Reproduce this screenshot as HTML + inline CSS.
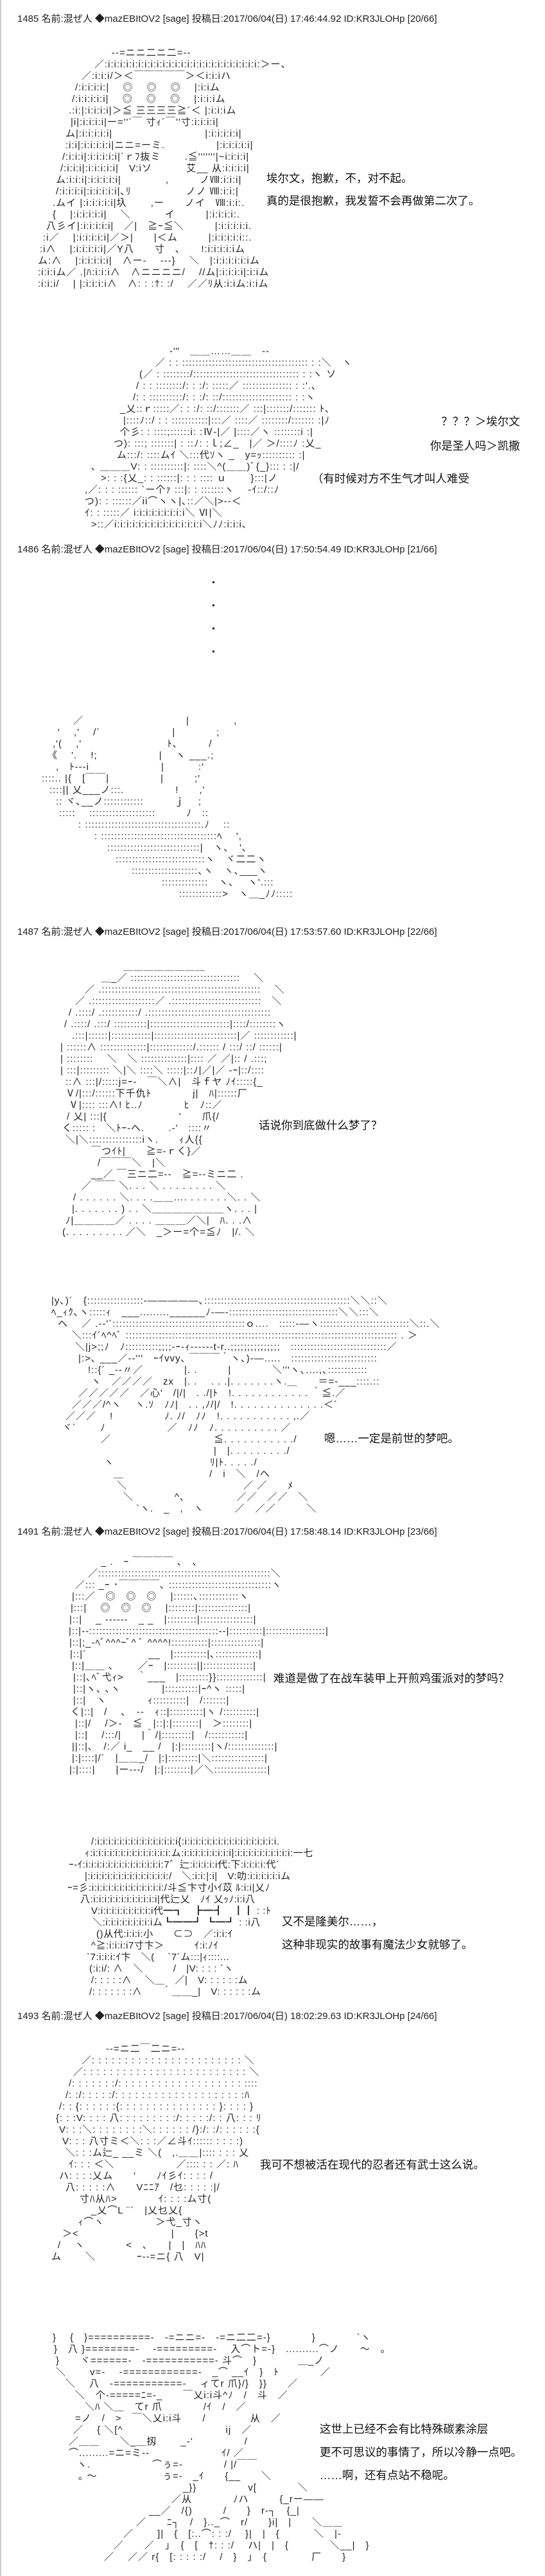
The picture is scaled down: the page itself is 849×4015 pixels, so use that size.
<!DOCTYPE html>
<html><head><meta charset="utf-8">
<style>
html,body{margin:0;padding:0;background:#fff;}
#w{position:relative;width:849px;height:4015px;overflow:hidden;border-left:2px solid #ccc;box-sizing:border-box;}
.h{position:absolute;left:25px;font:15px "Liberation Sans","Noto Sans CJK JP",sans-serif;color:#222;white-space:pre;line-height:18px;}
.t{position:absolute;font:17.5px "Liberation Sans","Noto Sans CJK SC",sans-serif;color:#111;white-space:pre;line-height:20px;}
.a{position:absolute;left:0;font:15px "Liberation Sans","Noto Sans CJK JP",sans-serif;color:#222;line-height:18px;letter-spacing:1px;}
.a div{height:18px;white-space:pre;overflow:visible;}
.d{position:absolute;width:3px;height:3px;background:#222;}
</style></head><body><div id="w">

<div class="h" style="top:21px">1485 名前:混ぜ人 ◆mazEBItOV2 [sage] 投稿日:2017/06/04(日) 17:46:44.92 ID:KR3JLOHp [20/66]</div>

<div class="a" style="top:74px">
<div style="padding-left:172px">-‐=ニニ二ニ二=‐-</div>
<div style="padding-left:145px">／:i:i:i:i:i:i:i:i:i:i:i:i:i:i:i:i:i:i:i:i:i:i:i:i:i:＞ー、</div>
<div style="padding-left:125px">／:i:i:i/＞＜￣￣￣￣￣＞＜i:i:iハ</div>
<div style="padding-left:115px">/:i:i:i:i:|　 ◎　 ◎　 ◎　 |:i:iム</div>
<div style="padding-left:110px">/:i:i:i:i:i|　 ◎　 ◎　 ◎　 |:i:i:iム</div>
<div style="padding-left:105px">.:i:|:i:i:i:i|＞≦ 三三三三≧´＜ |:i:i:iム</div>
<div style="padding-left:108px">|i|:i:i:i:i|ー=''´￣ 寸ｨ´￣''寸:i:i:i:i|</div>
<div style="padding-left:100px">ム|:i:i:i:i:i|　　　　　　　　　|:i:i:i:i:i|</div>
<div style="padding-left:100px">:i:i|:i:i:i:i:i|ニニ=ーミ.　　　　　|:i:i:i:i:i|</div>
<div style="padding-left:95px">/:i:i:i|:i:i:i:i:i|`ｒﾌ抜ミ　　 .≦'''''''|~i:i:i:i|</div>
<div style="padding-left:92px">/:i:i:i|:i:i:i:i:i|　V:iソ　　　 艾__ 从:i:i:i:i|</div>
<div style="padding-left:85px">ム:i:i:i|:i:i:i:i:i|　　　　 ,　　　ノⅧ:i:i:i|</div>
<div style="padding-left:85px">/:i:i:i:i|:i:i:i:i:i|､ﾘ　　　　　 ノノ Ⅷ:i:i:|</div>
<div style="padding-left:80px">.ムイ |:i:i:i:i:i|圦　　 ,ー　　ノイ　Ⅷ:i:i:.</div>
<div style="padding-left:80px">{　 |:i:i:i:i:i|　 ＼　　　 イ　　　|:i:i:i:i:.</div>
<div style="padding-left:70px">八彡イ|:i:i:i:i:i|　／|　≧ｰ≦＼　　　|:i:i:i:i:i.</div>
<div style="padding-left:65px">:i／　 |:i:i:i:i:i|／＞|　　|＜ム　　　|:i:i:i:i:i::.</div>
<div style="padding-left:60px">:i∧　 |:i:i:i:i:i|／Y八　　寸　､　　!:i:i:i:i:iム</div>
<div style="padding-left:57px">ム:∧　 |:i:i:i:i:i|　∧ー-　 ---}　 ＼　|:i:i:i:i:i:iム</div>
<div style="padding-left:57px">:i:i:iム／ .|ﾊ:i:i:i∧　∧ニニニニ/　 //ム|:i:i:i:i|:i:iム</div>
<div style="padding-left:57px">:i:i:i/　 | |:i:i:i:i∧　∧: : :†: :/　 ／／ﾘ从:i:iム:i:iム</div>
</div>
<div class="t" style="top:268px;left:413px">埃尔文，抱歉，不，对不起。</div>
<div class="t" style="top:303px;left:413px">真的是很抱歉，我发誓不会再做第二次了。</div>

<div class="a" style="top:539px">
<div style="padding-left:262px">-'"　＿＿……＿＿　‐-</div>
<div style="padding-left:240px">／ : : :::::::::::::::::::::::::::::::::::::: : :＼　ヽ</div>
<div style="padding-left:215px">(／ : ::::::::/:::::::::::::::::::::::::::::::: : :ヽ ソ</div>
<div style="padding-left:210px">/ : : ::::::::/: : :/: :::::／ ::::::::::::::: : :'.､</div>
<div style="padding-left:205px">/: : ::::::::::/: : :/: ::/::::::::::::::::::::: : :ヽ</div>
<div style="padding-left:185px">_乂::ｒ:::::／: : :/: ::/:::::::／ :::|:::::::/::::::: ﾄ､</div>
<div style="padding-left:190px">|::::ﾉ::/ : : :::::::::::|:::／ ::::／ ::::::::/::::::: :|ﾉ</div>
<div style="padding-left:185px">个彡: : ::::;::::::i: :Ⅳ-|／ |::::／ヽ ::::::::i :|</div>
<div style="padding-left:175px">つ): :::; :::::::| : ::ﾉ: :ｌ;∠_　|／ ＞/::::ﾉ :乂_</div>
<div style="padding-left:180px">ム:::/: ::::ムｲ ＼:::代ｿヽ _　y=ｯ:::::::::: :|</div>
<div style="padding-left:140px">､ ＿＿＿V: : ::::::::::|: ::::＼^(＿＿)ﾞ{_}::: : :|/</div>
<div style="padding-left:155px">&gt;: : :{乂_: : ::::::|: : : :::: ｕ　　 }:::|ノ</div>
<div style="padding-left:130px">,／: : : :::::: `ー个ｧ :::|: : :::::::ヽ　 -ｲ::/::ﾉ</div>
<div style="padding-left:130px">つ): : ::::::／ii⌒ヽヽ|､::／＼|&gt;--＜</div>
<div style="padding-left:130px">ｲ: : :::::／ i:i:i:i:i:i:i:i:i＼ Ⅵ|＼</div>
<div style="padding-left:140px">&gt;::／i:i:i:i:i:i:i:i:i:i:i:i:i:i:i＼ﾉﾉ:i:i:i､</div>
</div>
<div class="t" style="top:647px;left:500px;width:308px;text-align:right">？？？＞埃尔文</div>
<div class="t" style="top:685px;left:500px;width:308px;text-align:right">你是圣人吗＞凯撒</div>
<div class="t" style="top:736px;left:484px">（有时候对方不生气才叫人难受</div>

<div class="h" style="top:848px">1486 名前:混ぜ人 ◆mazEBItOV2 [sage] 投稿日:2017/06/04(日) 17:50:54.49 ID:KR3JLOHp [21/66]</div>
<div class="d" style="left:329px;top:906px"></div>
<div class="d" style="left:329px;top:942px"></div>
<div class="d" style="left:329px;top:978px"></div>
<div class="d" style="left:329px;top:1014px"></div>

<div class="a" style="top:1115px">
<div style="padding-left:112px">／　　　　　　　　　　|　　　　 ,</div>
<div style="padding-left:88px">'　 ,'　 /´　　　　　　　|　　　　;</div>
<div style="padding-left:80px">,'(　 ,'　　　　　　　　 ﾄ､　　　/</div>
<div style="padding-left:72px">《　 '.　 !;　　　　　　|　 ヽ ___.;</div>
<div style="padding-left:85px">,　ﾄ---i　　　　　　　|　　　 :'</div>
<div style="padding-left:63px">::::.. |{　[￣￣|　　　　　|　　　;'</div>
<div style="padding-left:75px">::::|| 乂___ノ:::.　　　　　!　　,'</div>
<div style="padding-left:85px">:: ヾ､__ノ::::::::::::　　　ｊ　 ;</div>
<div style="padding-left:90px">:::::　 ::::::::::::::::::::　　　ﾉ　::</div>
<div style="padding-left:120px">: :::::::::::::::::::::::::::::::::::.ﾉ　 ::</div>
<div style="padding-left:145px">: :::::::::::::::::::::::::::::::::::ﾍ　 ',</div>
<div style="padding-left:165px">::::::::::::::::::::::::::::|　ヽ､　'､</div>
<div style="padding-left:178px">:::::::::::::::::::::::::::ヽ　ヾ二二ヽ</div>
<div style="padding-left:203px">::::::::::::::::::::､ヽ　ヽ､___ヽ</div>
<div style="padding-left:250px">::::::::::::::　ヽ､　 ヽ'.:::</div>
<div style="padding-left:277px">:::::::::::::&gt;　ヽ＿_ﾉﾉ:::::</div>
</div>

<div class="h" style="top:1444px">1487 名前:混ぜ人 ◆mazEBItOV2 [sage] 投稿日:2017/06/04(日) 17:53:57.60 ID:KR3JLOHp [22/66]</div>

<div class="a" style="top:1498px">
<div style="padding-left:190px">＿＿＿＿＿＿＿＿</div>
<div style="padding-left:155px">＿_／ ::::::::::::::::::::::::::::::::: 　＼</div>
<div style="padding-left:130px">／ .:::::::::::::::::::::::::::::::::::::::::::::::: 　＼</div>
<div style="padding-left:115px">／ .:::::::::::::::::::／ .:::::::::::::::::::::::::::　＼</div>
<div style="padding-left:105px">/ .::::/ .:::::::::::/ .:::::::::::::::::::::::::::::::::::::</div>
<div style="padding-left:98px">/ .::::/ .:::/ ::::::::::|::::::::::::::::::::::::|::::/::::::::ヽ</div>
<div style="padding-left:110px">.:::|::::::|::::::::::::|:::::::::::::::::::::::::|／ ::::::::::::|</div>
<div style="padding-left:92px">| ::::::∧ ::::::::::::::|:::::::::::::/.:::::: / :::/ ::/ ::::::|</div>
<div style="padding-left:92px">| :::::::: 　＼　＼ ::::::::::::::|:::: ／ ／|:: / .:::;</div>
<div style="padding-left:92px">| :::|::::::::: ＼|＼ ::::＼ :::::|::ﾉ|／|／ -ｰ|::/::::</div>
<div style="padding-left:100px">::∧ :::|/:::::j=ｰ-　￣＼∧|　斗ｆヤ ﾉｲ:::::{_</div>
<div style="padding-left:100px">Ⅴ/|:::/::::::下千仇ﾄ　　　　j|　ﾊ|::::::厂</div>
<div style="padding-left:105px">Ⅴ|:::: :::∧! ﾋ..ﾉ　　　　ﾋ　ﾉ::／</div>
<div style="padding-left:102px">/ 乂| :::|{　　　　　　　'　　爪{/</div>
<div style="padding-left:95px">く::::: :　＼ﾄｰ-へ.　　 .-'　::::〃</div>
<div style="padding-left:100px">＼|＼::::::::::::::::iヽ.　　ｨ人{{</div>
<div style="padding-left:140px">￣つｲﾄ|　　≧=-ｒく}／</div>
<div style="padding-left:150px">/￣￣￣＼　|＼</div>
<div style="padding-left:140px">__／ ￣三ニ二=--　≧=--ミニ二 .</div>
<div style="padding-left:125px">／ ￣￣ ＼. . . ＼ . . . . . . . . ＼</div>
<div style="padding-left:112px">/ . . . . . . ＼. . . .＿＿…. . . . . . .＼. . ＼</div>
<div style="padding-left:110px">|. . . . . . . ) . . ＼＿＿＿＿＿＿＿ヽ. . . |</div>
<div style="padding-left:100px">ﾉ|＿＿＿＿／ . . . . ＿＿＿／＼|　ﾊ. . .∧</div>
<div style="padding-left:95px">(. . . . . . . . . ／＼　_＞ー=个=≦ﾉ　|/. ＼</div>
</div>
<div class="t" style="top:1744px;left:401px">话说你到底做什么梦了？</div>

<div class="a" style="top:2019px">
<div style="padding-left:78px">|y､)´　{:::::::::::::::::-―――――､::::::::::::::::::::::::::::::::::::::::::::＼＼::＼</div>
<div style="padding-left:78px">ﾍ_ｨｸ､ヽ:::::ｨ　___.........______ﾉ-―-:::::::::::::::::::::::::::::::::＼＼:::＼</div>
<div style="padding-left:88px">ヘ　 ／ .-‐'´::::::::::::::::::::::::::::::::::::::::ｏ....　:::::-―ヽ:::::::::::::::::::::::::::＼::.＼</div>
<div style="padding-left:110px">＼:::ｲ´ﾍ^ﾍﾞ :::::::::::::::::::::::::::::::::::::::::::::::::::::::::::::::::::::::::::::::::: . ＞</div>
<div style="padding-left:115px">＼|j&gt;;;ﾉ　ﾉ::::::::::;;;;-ｰ-ｨ------t-r..;;;;;;;;;;;;;;;　:::::::::::::::::::::::::::::／</div>
<div style="padding-left:120px">|:&gt;､ ___／-‐'''　ｰｲvvy､ ￣￣￣｀ヽ､)-―.....　::::::::::::::::::::::::::</div>
<div style="padding-left:135px">!::{´ _-‐〃／　　　　|. .　　　|　　　　＼'''ヽ､....,､::::::::::::</div>
<div style="padding-left:140px">ヽ　／／／／　zx　|. .　 . . .|. . . . . . .ヽ.＿　　＝=-___::::.::</div>
<div style="padding-left:120px">／／／／／　／心'　/|/|　. ./|ﾄ　!. . . . . . . . . . . . ｀≦.／</div>
<div style="padding-left:110px">／／／/^ヽ　 ヽ.ｿ　ﾉﾉ|　. . ,ﾉ/|/　!. . . . . . . . . . . . . .＜´</div>
<div style="padding-left:100px">／／／　 !　　　　　ﾉ. ﾉ/　ﾉﾉ　!. . . . . . . . . . . ,.／</div>
<div style="padding-left:95px">ヾ´　　 ﾉ　　　　　　／　ﾉﾉ　ﾉ. . . . . . . . . . ／</div>
<div style="padding-left:155px">／　　　　　　　　　　≦. . . . . . . . . . ./</div>
<div style="padding-left:155px">　　　　　　　　　　　|　|. . . . . . . . ./</div>
<div style="padding-left:160px">ヽ　　　　　　　　　 ﾘ|ﾄ. . . . ./</div>
<div style="padding-left:175px">＿　　　　　　　　 /　i　＼　/ヘ</div>
<div style="padding-left:180px">＼　　　　　　　　　　　 ／ ／　　ﾒ</div>
<div style="padding-left:190px">＼　　　　^､　　　　　／／　／／　＼</div>
<div style="padding-left:210px">`ヽ.　_　,　ヽ　　　／　／／　　　＼</div>
</div>
<div class="t" style="top:2232px;left:503px">嗯……一定是前世的梦吧。</div>

<div class="h" style="top:2379px">1491 名前:混ぜ人 ◆mazEBItOV2 [sage] 投稿日:2017/06/04(日) 17:58:48.14 ID:KR3JLOHp [23/66]</div>

<div class="a" style="top:2426px">
<div style="padding-left:155px">_ .　ｰ ￣￣￣￣ 、　､</div>
<div style="padding-left:135px">／::::::::::::::::::::::::::::::::::::::::::::::::::::＼</div>
<div style="padding-left:115px">／::: _ｰ ･￣￣￣￣､ :::::::::::::::::::::::::::::::ヽ</div>
<div style="padding-left:110px">|:::／　◎　◎　◎　 |::::::､::::::::::::ヽ</div>
<div style="padding-left:108px">|:::|　 ◎　◎　◎　 |::::::::|:::::::::::::::|</div>
<div style="padding-left:106px">|::|　 _ ------　_ _　|:::::::::|::::::::::::::::|</div>
<div style="padding-left:105px">|::|--:::::::::::::::::::::::::::::::::::::::--|::::::::::|::::::::::::::::::|</div>
<div style="padding-left:106px">|::|;_-ﾍﾞ^^^ｰﾞ^ ﾞ ^^^^!:::::::::::|:::::::::::::::|</div>
<div style="padding-left:107px">|::|´　　　　　　__　|::::::::::|､:::::::::::::|</div>
<div style="padding-left:110px">|::|＿＿ ､　　 ／ｰ　|:::::::::||:::::::::::::::|</div>
<div style="padding-left:112px">|::|､ﾍﾞ弋ｨ&gt;　 ｀___　|:::::::::}}::::::::::::::|</div>
<div style="padding-left:112px">|::|ヽ､ ､ヽ　　　　|::::::::::|ｰ^ヽ :::::|</div>
<div style="padding-left:112px">|::|　ヽ　　　　ｨ::::::::::|　/:::::::|</div>
<div style="padding-left:108px">く|::|　/　 ､　-‐　ｨ::|::::::::::|ヽ /::::::::::|</div>
<div style="padding-left:115px">|::|/　 /＞-　≦　|::|:|::::::::|　＞::::::::|</div>
<div style="padding-left:115px">|::|　 /:::/|　　|｀/|:::::::::|　/:::::::::::|</div>
<div style="padding-left:110px">||::|､　/:／ i_　__ /　|:|:::::::::|ヽ/::::::::::::::|</div>
<div style="padding-left:110px">|:|::::|/´　|＿＿_/　|:|:::::::::|＼::::::::::::::::|</div>
<div style="padding-left:106px">|:|::::|　　|ー--‐/　|:|::::::::|／＼::::::::::::::::|</div>
</div>
<div class="t" style="top:2606px;left:424px">难道是做了在战车装甲上开煎鸡蛋派对的梦吗？</div>

<div class="a" style="top:2862px;letter-spacing:0.6px">
<div style="padding-left:140px">/:i:i:i:i:i:i:i:i:i:i:i:i:i:i:i{:i:i:i:i:i:i:i:i:i:i:i:i:i:i:i:i:i.</div>
<div style="padding-left:130px">ｨ:i:i:i:i:i:i:i:i:i:i:i:i:i:i:ム:i:i:i:i:i:i:i:i:i|:i:i:i:i:i:i:i:i:i:i:一七</div>
<div style="padding-left:105px">ｰ-ｲ:i:i:i:i:i:i:i:i:i:i:i:i:i:i:7゛辷:i:i:i:i:i代:下:i:i:i:i:代´</div>
<div style="padding-left:130px">|:i:i:i:i:i:i:i:i:i:i:i:i:i:i:/　＼:i:i:|:i|　V:叻:i:i:i:i:i:iム</div>
<div style="padding-left:103px">ｰ=彡:i:i:i:i:i:i:i:i:i:i:i:i:i:/斗≦卞寸小ｲ苡 ﾙ:i:i|乂ﾉ</div>
<div style="padding-left:123px">八:i:i:i:i:i:i:i:i:i:i:i:i|代辷乂　ﾉｲ 乂ｯﾉ:i:i八</div>
<div style="padding-left:140px">V:i:i:i:i:i:i:i:i:i:i代━┓　┣━┫　┃┃ : :ﾄ</div>
<div style="padding-left:142px">＼:i:i:i:i:i:i:i:i:iム┗━━┛ ┗━┛ : :i八</div>
<div style="padding-left:148px">()从代:i:i:i:小　　⊂⊃　／:i:i:ｲ</div>
<div style="padding-left:140px">^≧:i:i:i:i7寸卞＞　　　ｲ:i:ﾉｲ</div>
<div style="padding-left:133px">`7:i:i:i:ｲ卞　＼(　 `7´ム:::|ｨ::::...</div>
<div style="padding-left:137px">(:i:i/: ∧　＼　　　/　|V: : : : `ヽ</div>
<div style="padding-left:140px">/: : : : :∧　 ＼＿　／|　V: : : : : :ム</div>
<div style="padding-left:137px">/: : : : : : :∧　　｀＿＿_|　V: : : : : :ム</div>
</div>
<div class="t" style="top:2985px;left:437px">又不是隆美尔……，</div>
<div class="t" style="top:3021px;left:437px">这种非现实的故事有魔法少女就够了。</div>

<div class="h" style="top:3134px">1493 名前:混ぜ人 ◆mazEBItOV2 [sage] 投稿日:2017/06/04(日) 18:02:29.63 ID:KR3JLOHp [24/66]</div>

<div class="a" style="top:3185px">
<div style="padding-left:163px">‐-=ニ二￣二ニ=‐-</div>
<div style="padding-left:125px">／: : : : : : : : : : : : : : : : : : : : : : : ＼</div>
<div style="padding-left:112px">／: : : : : : : : : : : : : : : : : : : : : : : : : ＼</div>
<div style="padding-left:105px">/: : : : : : :/: : : : : : : : : : : : : : : : : : : ::::</div>
<div style="padding-left:100px">/: :/: : : : :/: : : : : : : : : : : : : : : : : : : :ﾊ</div>
<div style="padding-left:90px">/: : {: : : : : :{: : : : : : : : : : : : : : : }: : : : }</div>
<div style="padding-left:85px">{: : :V: : : : 八: : : : : : : : :/: : : : :/: : 八: : : ﾘ</div>
<div style="padding-left:90px">V: : :＼: : : : : : : :＼: : : : : : /}:/: :/: : : : : :{</div>
<div style="padding-left:95px">V: : : 八寸ミ＜＼: : :／∠斗ｲ:::::: : : : :)</div>
<div style="padding-left:100px">＼: : :ム辷_ __ミ ＼(　,.＿＿|:::: : : : 乂</div>
<div style="padding-left:105px">ｲ: : : ＜＼　　　　　　／:::: : : ／: ﾊ</div>
<div style="padding-left:90px">ハ: : : :乂ム　　'　　ﾉｲ彡ｲ: : : : /</div>
<div style="padding-left:100px">八: : : : :∧　　Vﾆﾆｱ　/乜: : : : :|/</div>
<div style="padding-left:122px">寸ﾊ从ﾊ&gt;　　　　ｲ: : : :ム寸(</div>
<div style="padding-left:140px">_乂⌒L ¨`　|乂乜乂{</div>
<div style="padding-left:120px">ｨ⌒ヽ　　　　　＞弋_寸ヽ</div>
<div style="padding-left:95px">＞&lt;　　　　　　　　　|　　{&gt;t</div>
<div style="padding-left:88px">/　 ヽ　　　　&lt;　､　　|　|　ﾊﾊ</div>
<div style="padding-left:78px">ム　　 ＼　　　　ｰ--=ニ{ 八　V|</div>
</div>
<div class="t" style="top:3364px;left:403px">我可不想被活在现代的忍者还有武士这么说。</div>

<div class="a" style="top:3635px">
<div style="padding-left:80px">}　 {　}==========-　-=ニニ=-　-=ニ二二=-}　　　　}　　　　`ヽ</div>
<div style="padding-left:82px">}　八 }========-　 -=========-　 入⌒ト=-}　..........⌒ノ　　～　｡</div>
<div style="padding-left:85px">}　　ヾ======-　-===========- 斗⌒　}　　　　＿_ノ</div>
<div style="padding-left:85px">＼　　 v=-　 -============-　_⌒ __ｲ　}　ﾄ　　　　／</div>
<div style="padding-left:100px">＼　 八　-===========-　 ィてr 爪}/}　}}　　／</div>
<div style="padding-left:115px">＼　个-=====ﾆ=-_　　￣乂i:i斗^ﾉ　/　斗　／</div>
<div style="padding-left:130px">＼ﾊ ＼＿　てr 爪　　　　/ｲ　/　／</div>
<div style="padding-left:115px">=ノ　/　&gt;　￣＼乂i:i斗　　/　　　　 从　／</div>
<div style="padding-left:112px">／　 { ＼[^　　　　　　　　　　ij　／</div>
<div style="padding-left:105px">／＿＿　　＼_＿扨　　 _-'　　　　　/</div>
<div style="padding-left:105px">⌒.........=ニ=ミ--　　　　　　　ｲ/ ／</div>
<div style="padding-left:118px">ヽ.　　　　　　⌒ぅ=-　　　　/ |/￣￣</div>
<div style="padding-left:120px">｡ ～　　　　　　 ぅ=-　_ｲ　　{__　　＼</div>
<div style="padding-left:283px">_}}　　　　　v[　　　　＼</div>
<div style="padding-left:265px">／从　　　　ﾉハ　　　{_rー――</div>
<div style="padding-left:230px">__／　/{)　　　/　　}　r‐┐　{_|</div>
<div style="padding-left:210px">／　　ﾆ┐　/　}.._⌒　r/　　}i|　|　　＼＿＿</div>
<div style="padding-left:190px">／　　 ]|　{　[:..⌒: : :/　 }|　|　{　　　 ＼　|-</div>
<div style="padding-left:175px">／　　／　｣　{　[　†: : :/　 ハ|　|　{　　　　＼__|　}</div>
<div style="padding-left:160px">／　 ／／ r{　[: : : : :/　 /　}　」　{　　　　 厂　　}</div>
</div>
<div class="t" style="top:3776px;left:496px">这世上已经不会有比特殊碳素涂层</div>
<div class="t" style="top:3812px;left:496px">更不可思议的事情了，所以冷静一点吧。</div>
<div class="t" style="top:3848px;left:496px">……啊，还有点站不稳呢。</div>

</div></body></html>
